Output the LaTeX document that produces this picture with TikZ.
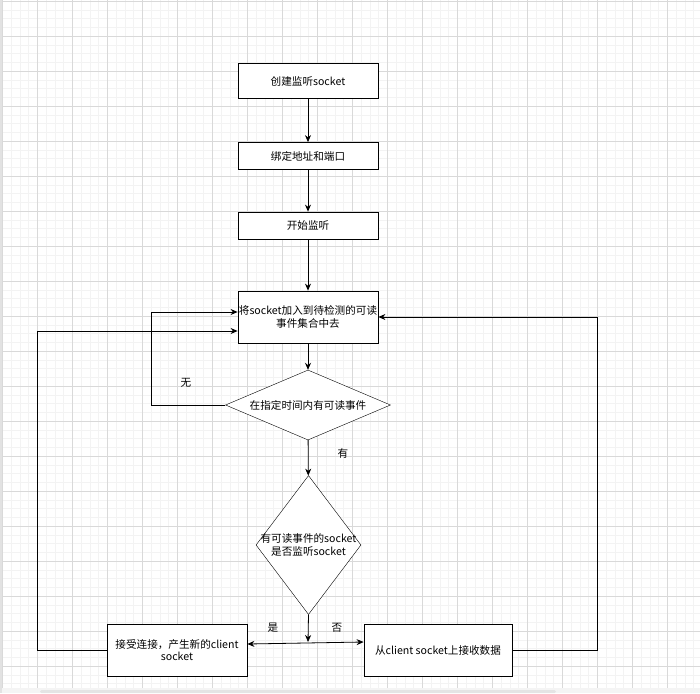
\documentclass[tikz,border=0pt]{standalone}
\usepackage{fontspec}
\setmainfont{Noto Sans CJK SC}
\usetikzlibrary{shapes.geometric,arrows.meta}
\definecolor{gridminor}{HTML}{F3F3F3}
\definecolor{gridmajor}{HTML}{D9D9D9}
\definecolor{edgegray}{HTML}{E2E2E2}
\definecolor{barlight}{HTML}{F4F4F4}
\definecolor{bargray}{HTML}{E4E4E4}
\tikzset{
	stepbox/.style={draw,thick,fill=white,minimum width=140,minimum height=#1,inner sep=0,align=center},
	stepbox/.default=27,
	testbox/.style={draw,thin,fill=white,diamond,inner sep=0},
	flow/.style={thick,-{Stealth[length=7pt,width=6pt]}},
	txt/.style={font=\fontsize{10.6}{12.5}\selectfont}
}
\begin{document}
\begin{tikzpicture}[x=1pt,y=-1pt,every node/.style={txt}]
	\useasboundingbox (0,0) rectangle (700,693);
	\fill[white] (0,0) rectangle (700,693);
	% grille
	\foreach \k in {0,...,80}
		\draw[gridminor,line width=0.8] ({2.5+8.75*\k},0) -- ({2.5+8.75*\k},688);
	\foreach \k in {0,...,78}
		\draw[gridminor,line width=0.8] (2,{1.3+8.75*\k}) -- (700,{1.3+8.75*\k});
	\foreach \k in {0,...,19}
		\draw[gridmajor,line width=0.8] ({2.5+35*\k},0) -- ({2.5+35*\k},688);
	\foreach \k in {0,...,19}
		\draw[gridmajor,line width=0.8] (2,{1.3+35*\k}) -- (700,{1.3+35*\k});
	\fill[edgegray] (0,0) rectangle (2,693);
	\fill[barlight] (2,688) rectangle (700,693);
	\fill[bargray,rounded corners=1.5] (40,690) rectangle (556,693);

	% etapes
	\node[stepbox=35] (create) at (308,81) {创建监听socket};
	\node[stepbox] (bind) at (308,156) {绑定地址和端口};
	\node[stepbox] (listen) at (308,225.5) {开始监听};
	\node[stepbox=52] (addset) at (308,317) {将socket加入到待检测的可读\\事件集合中去};
	\node[testbox,minimum width=165,minimum height=70] (hasread) at (308,405)
		{\phantom{x}};
	\node at (hasread.center) {在指定时间内有可读事件};
	\node[testbox,minimum width=105,minimum height=139] (islisten) at (308.5,545)
		{\phantom{x}};
	\node[align=center] at (islisten.center) {有可读事件的socket\\是否监听socket};
	\node[stepbox=52] (accept) at (177,650) {接受连接，产生新的client\\socket};
	\node[stepbox=52,minimum width=148] (recv) at (438,650) {从client socket上接收数据};

	% liaisons
	\draw[flow] (create) -- (bind);
	\draw[flow] (bind) -- (listen);
	\draw[flow] (listen) -- (addset);
	\draw[flow] (addset) -- (hasread);
	\draw[flow] (hasread) -- (islisten);
	\node at (343,453) {有};

	\coordinate (nocorner) at (151,312);
	\draw[flow] (hasread.west) -| (nocorner) -- (addset.west |- nocorner);
	\node at (186,383) {无};

	\coordinate (acccorner) at (37,331);
	\draw[flow] (accept.west) -| (acccorner) -- (addset.west |- acccorner);

	\coordinate (recvcorner) at (597,317);
	\draw[flow] (recv.east) -| (recvcorner) -- (addset.east);

	\coordinate (split) at (308,642);
	\draw[flow] (islisten.south) -- (split);
	\draw[thick,{Stealth[length=7pt,width=6pt]}-{Stealth[length=7pt,width=6pt]}]
		([yshift=6]accept.east) -- ([yshift=8]recv.west);
	\node at (273,628) {是};
	\node at (337,628) {否};
\end{tikzpicture}
\end{document}
